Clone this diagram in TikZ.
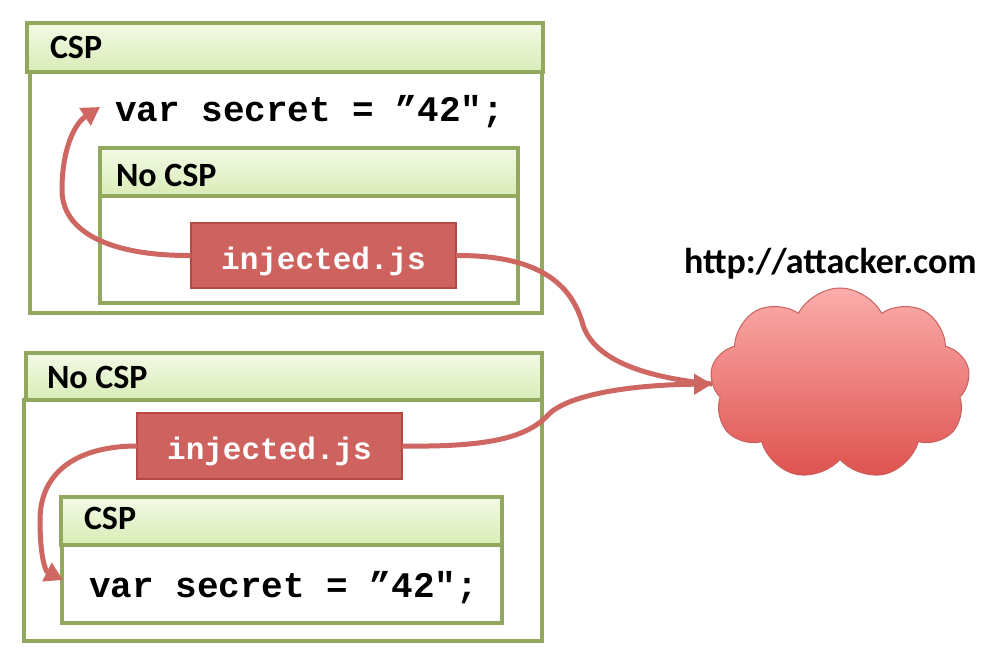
\documentclass[tikz,border=0pt]{standalone}
\usepackage{fontspec}
\setmainfont{Carlito}
\newfontfamily\codefont{Liberation Mono}
\usetikzlibrary{arrows.meta,shapes.symbols}
\definecolor{boxgreen}{RGB}{146,168,95}
\definecolor{hdrtop}{RGB}{243,250,230}
\definecolor{hdrbot}{RGB}{216,236,182}
\definecolor{injfill}{RGB}{205,98,94}
\definecolor{injdraw}{RGB}{182,72,68}
\definecolor{arrowred}{RGB}{206,102,97}
\definecolor{cloudtop}{RGB}{251,172,170}
\definecolor{cloudbot}{RGB}{222,82,78}
\definecolor{clouddraw}{RGB}{200,96,94}
\begin{document}
\begin{tikzpicture}[x=1pt,y=-1pt,
  every node/.style={inner sep=0pt,outer sep=0pt},
  hdr/.style={draw=boxgreen,line width=3.5pt,top color=hdrtop,bottom color=hdrbot,rectangle},
  bodybox/.style={draw=boxgreen,line width=3.5pt,fill=white,rectangle},
  hdrtext/.style={font=\fontsize{34}{40}\bfseries\selectfont,anchor=base west},
  codetext/.style={font=\codefont\fontsize{36}{42}\bfseries\selectfont,anchor=base west},
  injbox/.style={draw=injdraw,line width=2.5pt,fill=injfill,rectangle},
  injtext/.style={text=white,anchor=base,font=\codefont\fontsize{31}{36}\bfseries\selectfont},
  redarrow/.style={draw=arrowred,line width=5pt,-{Triangle[length=18pt,width=20pt]}},
  redline/.style={draw=arrowred,line width=5pt}]
\useasboundingbox (0,0) rectangle (1004,656);

% upper group
\node[bodybox,minimum width=512pt,minimum height=241pt] (b1) at (286,192.5) {};
\node[hdr,minimum width=516pt,minimum height=49pt] (h1) at (285,47.5) {};
\node[hdrtext] (t1) at (50,58) {CSP};
\node[codetext] (c1) at (115,121) {var secret = ”42";};
\node[bodybox,minimum width=418pt,minimum height=107pt] (b2) at (309,249.5) {};
\node[hdr,minimum width=418pt,minimum height=48pt] (h2) at (309,172) {};
\node[hdrtext] (t2) at (116,186) {No CSP};
\node[injbox,minimum width=265pt,minimum height=65pt] (inj1) at (323.5,255.5) {};
\node[injtext] (inj1t) at (323.5,269) {injected.js};

% lower group
\node[bodybox,minimum width=518pt,minimum height=241pt] (b3) at (283,520.5) {};
\node[hdr,minimum width=516pt,minimum height=47pt] (h3) at (284,376.5) {};
\node[hdrtext] (t3) at (47,388) {No CSP};
\node[injbox,minimum width=265pt,minimum height=66pt] (inj2) at (269.5,446) {};
\node[injtext] (inj2t) at (269.5,459) {injected.js};
\node[bodybox,minimum width=440pt,minimum height=78pt] (b4) at (282,584) {};
\node[hdr,minimum width=441pt,minimum height=48pt] (h4) at (281.5,521) {};
\node[hdrtext] (t4) at (84,529) {CSP};
\node[codetext] (c2) at (89,597) {var secret = ”42";};

% cloud
\node[cloud,cloud puffs=9,cloud puff arc=125,aspect=1.35,draw=clouddraw,line width=1pt,
  top color=cloudtop,bottom color=cloudbot,minimum width=260pt,minimum height=192pt] (cloud) at (840,384) {};
\node[font=\fontsize{36}{42}\bfseries\selectfont,anchor=base west] (url) at (684,273) {http://attacker.com};

\coordinate (a1) at (100,107);
\coordinate (a2) at (63,580);

% connectors
\draw[redarrow] (inj1.west) .. controls (110,256) and (62,232) .. (62,190) .. controls (62,150) and (74,124) .. (a1);
\draw[redline] (inj1.east) .. controls (540,255) and (572,285) .. (583,325) .. controls (595,362) and (650,378) .. (cloud.west);
\draw[redarrow] (inj2.east) .. controls (480,447) and (525,440) .. (548,415) .. controls (565,397) and (620,385) .. (cloud.west);
\draw[redarrow] (inj2.west) .. controls (80,446) and (40,470) .. (40,520) .. controls (40,555) and (45,571) .. (a2);
\end{tikzpicture}
\end{document}
